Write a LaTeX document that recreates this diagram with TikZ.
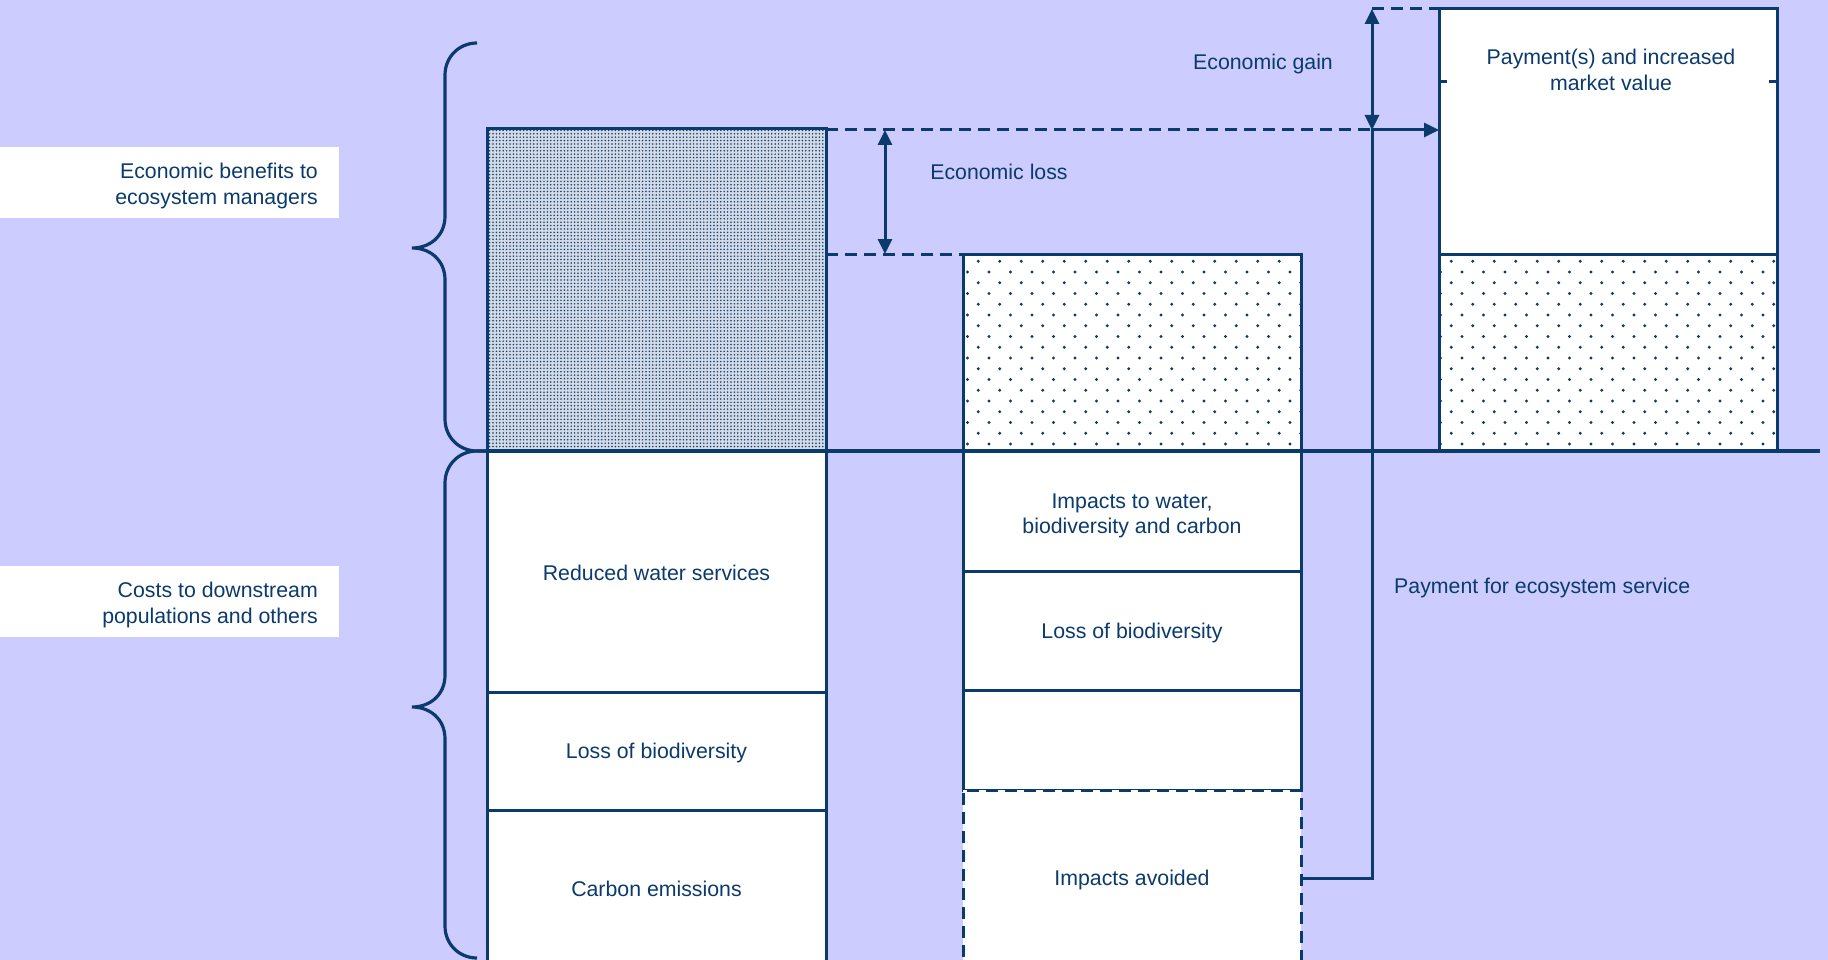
\documentclass[tikz,border=0pt]{standalone}
\usepackage{fontspec}
\setmainfont{Liberation Sans}
\usetikzlibrary{arrows.meta,patterns}
\definecolor{bg}{HTML}{CCCCFF}
\definecolor{navy}{HTML}{0B3A6C}
\definecolor{densebase}{HTML}{D3DAE6}
\pgfdeclarepatternformonly{sparsedots}{\pgfqpoint{-2pt}{-2pt}}{\pgfqpoint{23.5pt}{23.5pt}}{\pgfqpoint{21.5pt}{21.5pt}}{%
  \pgfpathcircle{\pgfqpoint{0pt}{0pt}}{1.6pt}%
  \pgfpathcircle{\pgfqpoint{10.75pt}{10.75pt}}{1.6pt}%
  \pgfusepath{fill}}
\pgfdeclarepatternformonly{densedots}{\pgfqpoint{-1.5pt}{-1.5pt}}{\pgfqpoint{1.5pt}{1.5pt}}{\pgfqpoint{3.4pt}{3.4pt}}{%
  \pgfpathcircle{\pgfqpoint{0pt}{0pt}}{0.85pt}%
  \pgfusepath{fill}}
\begin{document}
\begin{tikzpicture}[x=1pt,y=-1pt,
  font=\fontsize{21.3}{25.5}\selectfont, text=navy,
  ln/.style={draw=navy, line width=3pt},
  box/.style={ln, fill=white, inner sep=0pt, outer sep=0pt, anchor=north west, align=center},
  sparse/.style={box, pattern=sparsedots, pattern color=navy, preaction={fill=white}},
  dense/.style={box, pattern=densedots, pattern color=navy, preaction={fill=densebase}},
  dsh/.style={ln, dash pattern=on 12pt off 7pt},
  tipend/.style={-{Triangle[length=15pt,width=14pt]}},
  tipboth/.style={{Triangle[length=15pt,width=14pt]}-{Triangle[length=15pt,width=14pt]}},
  lbl/.style={inner sep=0pt, align=center}]
\useasboundingbox (0,0) rectangle (1828,960);
\fill[bg] (0,0) rectangle (1828,960);

% left label boxes
\fill[white] (0,147) rectangle (339,218);
\node[lbl, align=right, anchor=east] (lbtop) at (318,186) {Economic benefits to\\ecosystem managers};
\fill[white] (0,566) rectangle (339,637);
\node[lbl, align=right, anchor=east] (lbbot) at (318,605) {Costs to downstream\\populations and others};

% braces
\draw[navy, line width=3.2pt] (477,43) .. controls (459,43) and (445,57) .. (445,75)
  -- (445,216) .. controls (445,236) and (430,248) .. (412,248)
  .. controls (430,248) and (445,260) .. (445,280)
  -- (445,419) .. controls (445,437) and (459,451) .. (477,451) -- (487,451);
\draw[navy, line width=3.2pt] (487,451) -- (477,451) .. controls (459,451) and (445,465) .. (445,483)
  -- (445,675) .. controls (445,695) and (430,707) .. (412,707)
  .. controls (430,707) and (445,719) .. (445,739)
  -- (445,926) .. controls (445,944) and (459,958) .. (477,958);

% bar 1
\node[dense, minimum width=339pt, minimum height=322pt] (b1top) at (487,129) {};
\node[box, minimum width=339pt, minimum height=241pt] (b1r1) at (487,451) {};
\node[lbl] (b1r1t) at (b1r1.center) [yshift=-1pt] {Reduced water services};
\node[box, minimum width=339pt, minimum height=118pt] (b1r2) at (487,692) {};
\node[lbl] (b1r2t) at (b1r2.center) [yshift=-2pt] {Loss of biodiversity};
\node[box, minimum width=339pt, minimum height=154pt] (b1r3) at (487,810) {};
\node[lbl] (b1r3t) at (b1r3.center) [yshift=-2pt] {Carbon emissions};

% bar 2
\node[sparse, minimum width=338pt, minimum height=197pt] (b2top) at (963,254) {};
\node[box, minimum width=338pt, minimum height=120pt] (b2r1) at (963,451) {};
\node[lbl] (b2r1t) at (1132,516) {Impacts to water,\\biodiversity and carbon};
\node[box, minimum width=338pt, minimum height=119pt] (b2r2) at (963,571) {};
\node[lbl] (b2r2t) at (b2r2.center) [yshift=-2pt] {Loss of biodiversity};
\node[box, minimum width=338pt, minimum height=100pt] (b2r3) at (963,690) {};
\node[box, dash pattern=on 12pt off 7pt, minimum width=338pt, minimum height=176pt] (avoid) at (963,790) {};
\node[lbl] (avoidt) at (avoid.center) [yshift=-2pt] {Impacts avoided};
\draw[ln] (b2r3.south west) -- (b2r3.north west) -- (b2r3.north east) -- (b2r3.south east);

% bar 3
\node[box, minimum width=338pt, minimum height=245pt] (pay) at (1439,9) {};
\node[lbl] (paytxt) at (1611,70) {Payment(s) and increased\\market value};
\draw[ln] (1439,82) -- (1447,82);
\draw[ln] (1769,82) -- (1777,82);
\node[sparse, minimum width=338pt, minimum height=197pt] (b3top) at (1439,254) {};

% baseline
\draw[navy, line width=3.4pt] (b1top.south west) -- (1820,451);

% coordinates
\coordinate (lossTop) at (885,130);
\coordinate (lossBot) at (885,254);
\coordinate (gainTop) at (1372,9);
\coordinate (gainBot) at (1372,130);

% dashed guides
\draw[dsh] (b1top.east |- lossTop) -- (gainBot);
\draw[dsh] (b1top.east |- lossBot) -- (b2top.north west);
\draw[dsh] (gainTop) -- (pay.north west);

% arrows
\draw[ln, tipboth] (lossTop) -- (lossBot);
\draw[ln, tipboth] (gainTop) -- (gainBot);
\draw[ln, tipend] (avoid.east) -| (gainBot) -- (pay.west |- gainBot);

% labels
\node[lbl] (losstxt) at (999,172) {Economic loss};
\node[lbl] (gaintxt) at (1263,64) {Economic gain};
\node[lbl, anchor=west] (pestxt) at (1394,588) {Payment for ecosystem service};
\end{tikzpicture}
\end{document}
